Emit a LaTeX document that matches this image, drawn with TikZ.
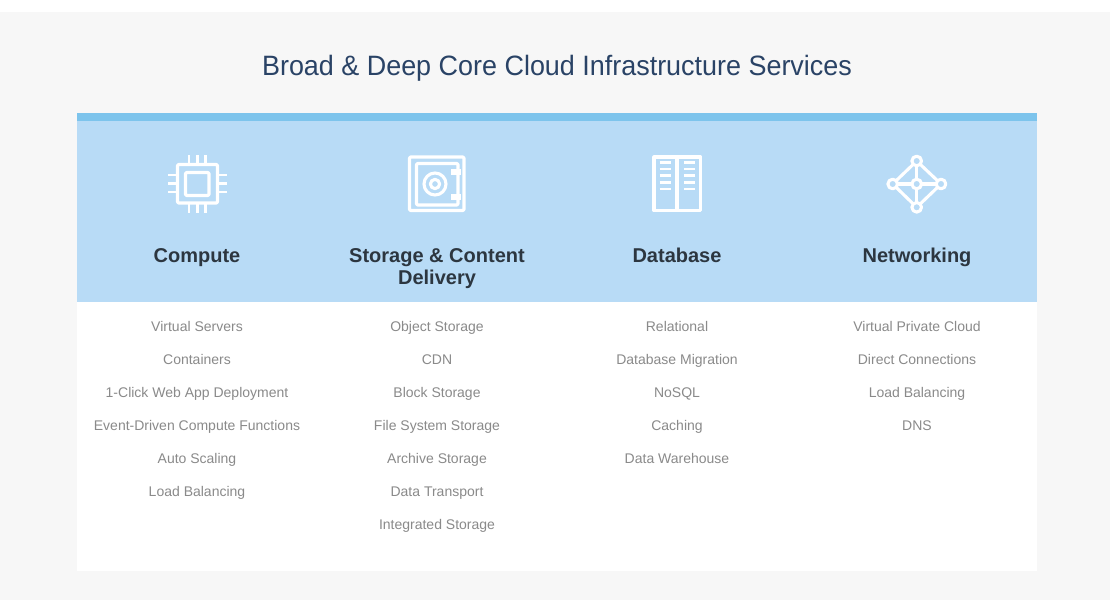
\documentclass[tikz,border=0pt]{standalone}
\usepackage{fontspec}
\setmainfont{Liberation Sans}
\definecolor{pagebg}{HTML}{F7F7F7}
\definecolor{barblue}{HTML}{7DC4EC}
\definecolor{headblue}{HTML}{B8DBF6}
\definecolor{titlecol}{HTML}{2A4366}
\definecolor{headcol}{HTML}{2C3640}
\definecolor{itemcol}{HTML}{8A8A8A}
\tikzset{
  titletext/.style={anchor=base,inner sep=0pt,text=titlecol,font=\fontsize{28}{28}\selectfont},
  headtext/.style={anchor=base,inner sep=0pt,text=headcol,font=\fontsize{20}{22}\selectfont\bfseries},
  itemtext/.style={anchor=base,inner sep=0pt,text=itemcol,font=\fontsize{14}{14}\selectfont},
  icon/.style={draw=white,line width=3.1pt,line join=round},
  iconthin/.style={draw=white,line width=2.8pt}
}
\begin{document}
\begin{tikzpicture}[x=1pt,y=-1pt]
\useasboundingbox (0,0) rectangle (1110,600);
\fill[white] (0,0) rectangle (1110,600);
\fill[pagebg] (0,12) rectangle (1110,600);
\fill[white] (77,302) rectangle (1037,571);
\fill[headblue] (77,113) rectangle (1037,302);
\fill[barblue] (77,113) rectangle (1037,121);
\node[titletext] (title) at (557,75) {\scalebox{0.962}[1]{Broad \& Deep Core Cloud Infrastructure Services}};
% chip icon
\draw[icon,rounded corners=1pt] (177.5,164.5) rectangle (217.5,203);
\draw[icon,rounded corners=1pt] (185.5,172.5) rectangle (209,195.5);
\foreach \p in {189,197.3,205.5}{\draw[iconthin] (\p,155) -- (\p,164.5); \draw[iconthin] (\p,203) -- (\p,212.5);}
\foreach \p in {175,183.5,192}{\draw[iconthin] (168,\p) -- (177.5,\p); \draw[iconthin] (217.5,\p) -- (226.5,\p);}
% safe icon
\draw[icon,rounded corners=1pt] (409.5,157) rectangle (464,210.5);
\draw[icon,rounded corners=1pt] (416.5,163.5) rectangle (458,205);
\draw[icon] (435,184) circle (11);
\draw[icon] (435,184) circle (4.6);
\fill[white] (451,168.5) rectangle (460.5,174.5);
\fill[white] (451,193.5) rectangle (460.5,199.5);
% database icon
\draw[icon] (654,157) rectangle (700.5,210.5);
\draw[icon] (677,157) -- (677,210.5);
\foreach \p in {162.5,169,175.7,182.3,189}{\draw[iconthin] (659.5,\p) -- (670.5,\p); \draw[iconthin] (684,\p) -- (695,\p);}
% network icon
\draw[icon] (916.7,161) -- (941,184) -- (916.7,207.3) -- (892.7,184) -- cycle;
\draw[icon] (916.7,161) -- (916.7,207.3) (892.7,184) -- (941,184);
\foreach \a/\b in {916.7/161,916.7/207.3,892.7/184,941/184,916.7/184}{\filldraw[icon,fill=headblue] (\a,\b) circle (4.8);}
% headers
\node[headtext] (h1) at (197,262) {Compute};
\node[headtext] (h2a) at (437,262) {Storage \& Content};
\node[headtext] (h2b) at (437,284) {Delivery};
\node[headtext] (h3) at (677,262) {Database};
\node[headtext] (h4) at (917,262) {Networking};
% column 1
\node[itemtext] (a1) at (197,331) {Virtual Servers};
\node[itemtext] (a2) at (197,364) {Containers};
\node[itemtext] (a3) at (197,397) {1-Click Web App Deployment};
\node[itemtext] (a4) at (197,430) {Event-Driven Compute Functions};
\node[itemtext] (a5) at (197,463) {Auto Scaling};
\node[itemtext] (a6) at (197,496) {Load Balancing};
% column 2
\node[itemtext] (b1) at (437,331) {Object Storage};
\node[itemtext] (b2) at (437,364) {CDN};
\node[itemtext] (b3) at (437,397) {Block Storage};
\node[itemtext] (b4) at (437,430) {File System Storage};
\node[itemtext] (b5) at (437,463) {Archive Storage};
\node[itemtext] (b6) at (437,496) {Data Transport};
\node[itemtext] (b7) at (437,529) {Integrated Storage};
% column 3
\node[itemtext] (c1) at (677,331) {Relational};
\node[itemtext] (c2) at (677,364) {Database Migration};
\node[itemtext] (c3) at (677,397) {NoSQL};
\node[itemtext] (c4) at (677,430) {Caching};
\node[itemtext] (c5) at (677,463) {Data Warehouse};
% column 4
\node[itemtext] (d1) at (917,331) {Virtual Private Cloud};
\node[itemtext] (d2) at (917,364) {Direct Connections};
\node[itemtext] (d3) at (917,397) {Load Balancing};
\node[itemtext] (d4) at (917,430) {DNS};
\end{tikzpicture}
\end{document}
